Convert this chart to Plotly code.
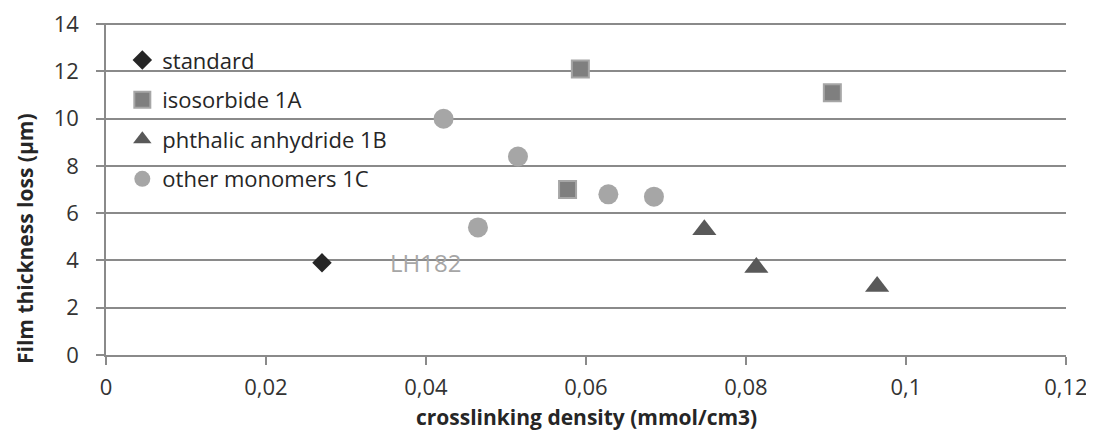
import plotly.graph_objects as go

# crosslinking density (mmol/cm3) vs film thickness loss (um)
standard_x = [0.0270]
standard_y = [3.9]

iso_x = [0.0593, 0.0577, 0.0908]
iso_y = [12.1, 7.0, 11.1]

phth_x = [0.0748, 0.0813, 0.0964]
phth_y = [5.3, 3.7, 2.9]

other_x = [0.0422, 0.0515, 0.0465, 0.0628, 0.0685]
other_y = [10.0, 8.4, 5.4, 6.8, 6.7]

label_text = "LH182"
label_x = 0.040
label_y = 3.93

x_ticks = [0, 0.02, 0.04, 0.06, 0.08, 0.1, 0.12]
y_ticks = [0, 2, 4, 6, 8, 10, 12, 14]

FONT = "Open Sans, Noto Sans, DejaVu Sans, sans-serif"
GRID = "#8a8a8a"

fig = go.Figure()

fig.add_trace(go.Scatter(
    x=standard_x, y=standard_y, mode="markers", name="standard",
    legendgroup="a",
    marker=dict(symbol="diamond", size=15, color="#262626"),
))
fig.add_trace(go.Scatter(
    x=iso_x, y=iso_y, mode="markers", name="isosorbide 1A",
    legendgroup="b",
    marker=dict(symbol="square", size=17, color="#7f7f7f",
                line=dict(color="#a6a6a6", width=2)),
))
fig.add_trace(go.Scatter(
    x=phth_x, y=phth_y, mode="markers", name="phthalic anhydride 1B",
    legendgroup="c",
    marker=dict(symbol="triangle-up", size=21, color="#595959"),
))
fig.add_trace(go.Scatter(
    x=other_x, y=other_y, mode="markers", name="other monomers 1C",
    legendgroup="d",
    marker=dict(symbol="circle", size=20, color="#a6a6a6"),
))

# data label next to the standard point
fig.add_annotation(x=label_x, y=label_y, xref="x", yref="y", text=label_text,
                   showarrow=False, font=dict(family=FONT, size=24, color="#a6a6a6"))

# axis titles as annotations so they sit where the original has them
fig.add_annotation(x=0.5, y=-0.235, xref="paper", yref="paper",
                   text="<b>crosslinking density (mmol/cm3)</b>", showarrow=False,
                   xanchor="center", yanchor="bottom",
                   font=dict(family=FONT, size=21, color="#262626"))
fig.add_annotation(x=-0.0845, y=0.352, xref="paper", yref="paper",
                   text="<b>Film thickness loss (µm)</b>", showarrow=False, textangle=-90,
                   xanchor="center", yanchor="middle",
                   font=dict(family=FONT, size=21, color="#262626"))

# page body adds 8px, so the figure is 8px smaller and margins shifted
fig.update_layout(
    width=1086, height=425,
    margin=dict(l=98, r=28, t=15, b=78),
    plot_bgcolor="white", paper_bgcolor="white",
    separators=", ",
    font=dict(family=FONT, size=22, color="#333333"),
    showlegend=True,
    legend=dict(x=0.017, y=0.951, xanchor="left", yanchor="top",
                bgcolor="rgba(0,0,0,0)", traceorder="grouped", tracegroupgap=8,
                font=dict(family=FONT, size=22, color="#262626")),
)
fig.update_xaxes(
    range=[0, 0.12001], tickvals=x_ticks, showgrid=False, zeroline=False,
    showline=True, linecolor=GRID, linewidth=1.5, automargin=False,
    ticks="outside", ticklen=8, tickcolor=GRID, tickwidth=1.5,
    ticklabelstandoff=4, ticklabeloverflow="allow",
)
fig.update_yaxes(
    range=[0, 14.05], tickvals=y_ticks, showgrid=True, gridcolor=GRID, gridwidth=1.5,
    zeroline=False, showline=True, linecolor=GRID, linewidth=1.5, automargin=False,
    ticks="outside", ticklen=8, tickcolor=GRID, tickwidth=1.5,
    ticklabelstandoff=13, ticklabeloverflow="allow",
)

fig.write_html("out.html")
